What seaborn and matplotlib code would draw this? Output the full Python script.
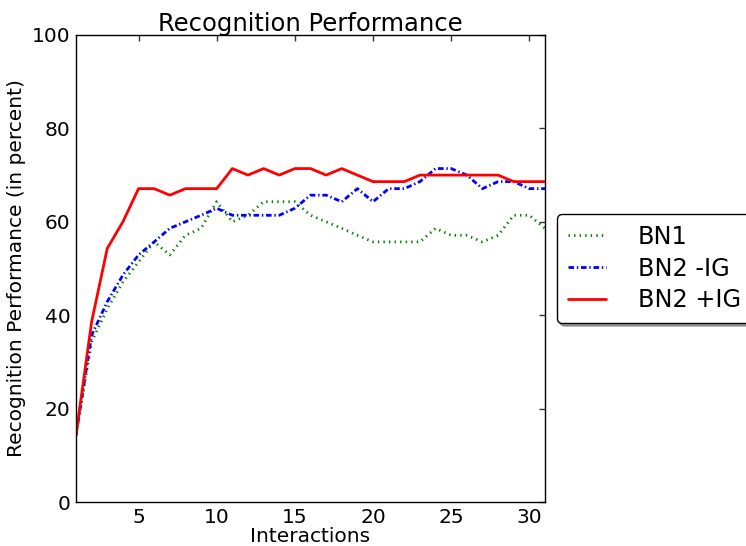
import matplotlib
matplotlib.use("Agg")
import matplotlib.pyplot as plt
import seaborn as sns
import pandas as pd

interactions = list(range(1, 32))
bn1 = [14.3, 34.3, 41.4, 47.1, 51.4, 55.7, 52.9, 57.1, 58.6, 64.3,
       60.0, 61.4, 64.3, 64.3, 64.3, 61.4, 60.0, 58.6, 57.1, 55.7,
       55.7, 55.7, 55.7, 58.6, 57.1, 57.1, 55.7, 57.1, 61.4, 61.4, 58.6]
bn2_minus = [14.3, 35.7, 42.9, 48.6, 52.9, 55.7, 58.6, 60.0, 61.4, 62.9,
             61.4, 61.4, 61.4, 61.4, 62.9, 65.7, 65.7, 64.3, 67.1, 64.3,
             67.1, 67.1, 68.6, 71.4, 71.4, 70.0, 67.1, 68.6, 68.6, 67.1, 67.1]
bn2_plus = [14.3, 38.6, 54.3, 60.0, 67.1, 67.1, 65.7, 67.1, 67.1, 67.1,
            71.4, 70.0, 71.4, 70.0, 71.4, 71.4, 70.0, 71.4, 70.0, 68.6,
            68.6, 68.6, 70.0, 70.0, 70.0, 70.0, 70.0, 70.0, 68.6, 68.6, 68.6]
series_names = ["BN1", "BN2 -IG", "BN2 +IG"]
colors = ["green", "blue", "red"]
dash_patterns = [(1, 3), (4, 2, 1, 2), None]

df = pd.concat([
    pd.DataFrame({"Interactions": interactions, "value": vals, "series": name})
    for name, vals in zip(series_names, [bn1, bn2_minus, bn2_plus])
])

sns.set_style("white")
plt.rcParams["font.family"] = ["DejaVu Sans"]
plt.rcParams["font.size"] = 14
plt.rcParams["lines.scale_dashes"] = False
plt.rcParams["text.color"] = "black"
plt.rcParams["axes.labelcolor"] = "black"

fig = plt.figure(figsize=(7.46, 5.46), dpi=100)
ax = fig.add_axes([76/746, 1 - 502/546, (545-76)/746, (502-35)/546])

for name, c, dp in zip(series_names, colors, dash_patterns):
    sub = df[df["series"] == name]
    sns.lineplot(data=sub, x="Interactions", y="value", ax=ax, color=c,
                 linewidth=2, label=name)
    line = ax.get_lines()[-1]
    if dp is not None:
        line.set_dashes(dp)

ax.set_xlim(1, 31)
ax.set_ylim(0, 100)
ax.set_xticks([5, 10, 15, 20, 25, 30])
ax.set_yticks([0, 20, 40, 60, 80, 100])
ax.tick_params(direction="in", top=True, right=True, length=4, width=1,
               labelsize=14.5, colors="black", labelcolor="black", pad=4)
ax.tick_params(colors="#333333", which="both")
ax.tick_params(labelcolor="black")
for s in ax.spines.values():
    s.set_color("black")
    s.set_linewidth(1)
ax.set_xlabel("Interactions", fontsize=14.5, labelpad=0)
ax.set_ylabel("Recognition Performance (in percent)", fontsize=14.5, labelpad=4)
ax.set_title("Recognition Performance", fontsize=17.5, pad=3)

leg = ax.legend(loc="center left", bbox_to_anchor=(1.026, 0.5), fontsize=17.3,
                shadow=True, fancybox=True, frameon=True, handlelength=1.6,
                borderpad=0.45, labelspacing=0.33, handletextpad=1.3,
                borderaxespad=0.0)
leg.get_frame().set_edgecolor("black")
leg.get_frame().set_alpha(1)

fig.savefig("out.png", dpi=100)
